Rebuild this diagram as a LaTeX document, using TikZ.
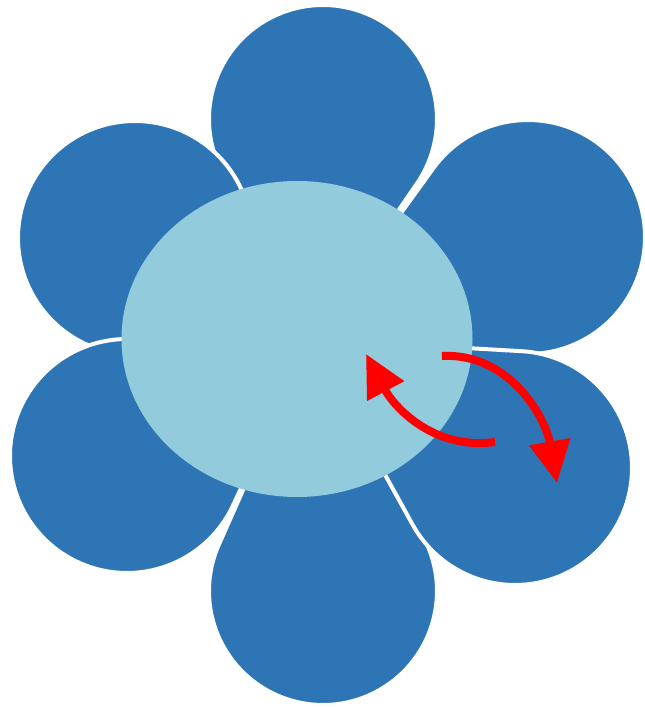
\documentclass[tikz,border=0pt]{standalone}
\usetikzlibrary{%
	arrows.meta,%
	shapes.geometric,%
}
\definecolor{cpetal}{RGB}{46, 117, 182}
\definecolor{chub}{RGB}{146, 204, 220}
\definecolor{cred}{RGB}{255, 0, 0}
\tikzset{
	petal/.style={%
			fill=cpetal,%
			draw=white,%
			line width=4pt,%
			line join=round},%
	hub/.style={%
			ellipse,%
			fill=chub,%
			inner sep=0,%
			minimum width=351pt,%
			minimum height=316pt},%
	turn/.style={%
			draw=cred,%
			line width=8pt,%
			-{Triangle[length=42pt, width=40pt]}},%
}
% one petal: circle centre (#1,#2), radius #3, tip near the flower centre (310,368)
\newcommand{\petal}[3]{%
	\pgfmathsetmacro{\petdx}{#1-310}%
	\pgfmathsetmacro{\petdy}{#2-368}%
	\pgfmathsetmacro{\petang}{atan2(\petdy,\petdx)}%
	\pgfmathsetmacro{\petlen}{veclen(\petdx,\petdy)}%
	\pgfmathsetmacro{\petphi}{180-acos(#3/\petlen)}%
	\pgfmathsetmacro{\petx}{\petlen+#3*cos(\petphi)}%
	\pgfmathsetmacro{\pety}{#3*sin(\petphi)}%
	\begin{scope}[shift={(310,368)}, rotate=\petang]
		\filldraw[petal] (0,0) -- (\petx,\pety) arc[start angle=\petphi, end angle=-\petphi, radius=#3] -- cycle;
	\end{scope}}

\begin{document}
\begin{tikzpicture}[x=1pt, y=1pt]%
	\useasboundingbox (0,0) rectangle (645,707);

	% petals
	\petal{323}{588}{114}
	\petal{323}{116}{114}
	\petal{135}{469}{117}
	\petal{127}{251}{117}
	\petal{528}{470}{117}
	\petal{515}{239}{117}

	\node[hub] (hub) at (297,368) {};

	\coordinate (backtail) at (495,265);
	\coordinate (backtip) at (366,353);
	\coordinate (fwdtail) at (442,351);
	\coordinate (fwdtip) at (557,224);

	\draw[turn] (backtail) to[out=188, in=-62] (backtip);
	\draw[turn] (fwdtail) to[out=3, in=100] (fwdtip);
\end{tikzpicture}
\end{document}
